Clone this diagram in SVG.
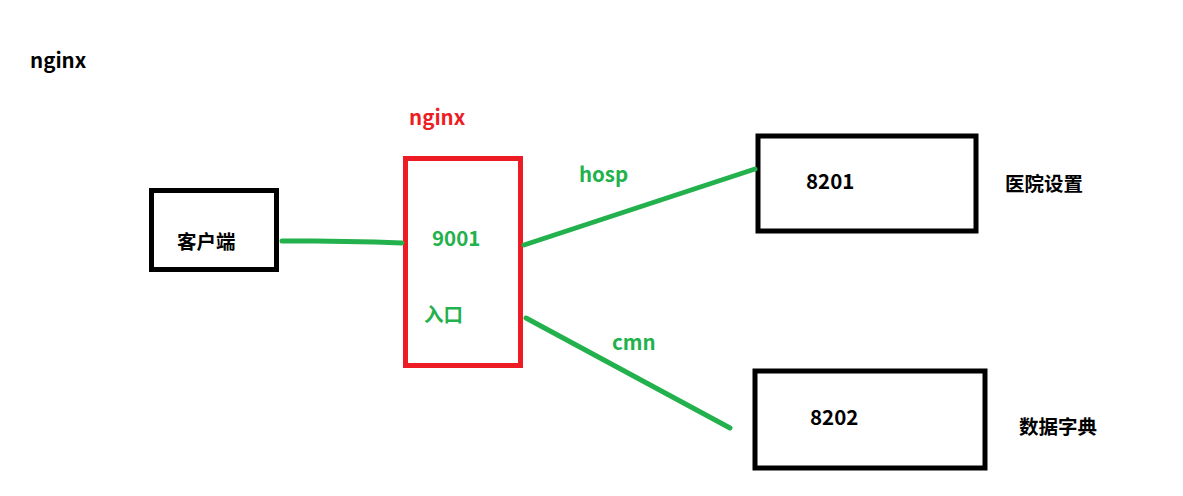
<svg xmlns="http://www.w3.org/2000/svg" width="1183" height="496" viewBox="0 0 1183 496">
<style>
.box{fill:none;stroke:#000;stroke-width:5}
.t{font-family:"Noto Sans CJK SC","Liberation Sans",sans-serif;font-weight:bold;font-size:20.5px}
.c{font-size:19.5px}
.g{fill:#22b14c}
.r{fill:#ed1c24}
.k{fill:#000}
.ln{stroke:#22b14c;stroke-width:5;stroke-linecap:round;fill:none}
</style>
<rect width="1183" height="496" fill="#fff"/>
<text class="t k" x="30" y="68">nginx</text>
<g id="client">
<rect class="box" x="151.5" y="190.5" width="125" height="79"/>
<text class="t c k" x="177" y="249">客户端</text>
</g>
<g id="nginx">
<text class="t r" x="409" y="125">nginx</text>
<rect x="405.5" y="158.5" width="115" height="207" fill="none" stroke="#ed1c24" stroke-width="5"/>
<text class="t g" x="432" y="246">9001</text>
<text class="t c g" x="424" y="322">入口</text>
</g>
<g id="s8201">
<rect class="box" x="758" y="136" width="218" height="95" stroke-width="6"/>
<text class="t k" x="806" y="189">8201</text>
<text class="t c k" x="1005" y="191">医院设置</text>
</g>
<g id="s8202">
<rect class="box" x="755" y="371" width="230" height="97" stroke-width="6"/>
<text class="t k" x="810" y="425">8202</text>
<text class="t c k" x="1019" y="434">数据字典</text>
</g>
<g id="connectors">
<polyline class="ln" points="282,241 315,241 375,242 402,243"/>
<line class="ln" x1="524" y1="245" x2="755" y2="169"/>
<text class="t g" x="579" y="182">hosp</text>
<line class="ln" x1="526" y1="318" x2="730" y2="428"/>
<text class="t g" x="612" y="350">cmn</text>
</g>
</svg>
